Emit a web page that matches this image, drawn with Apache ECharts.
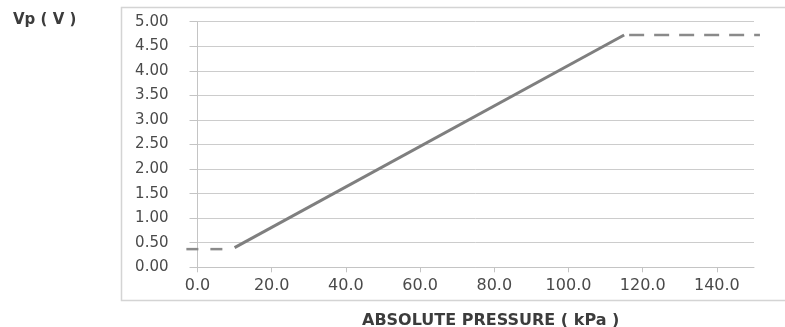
<!DOCTYPE html>
<html>
<head>
<meta charset="utf-8">
<script src="https://cdn.jsdelivr.net/npm/echarts@6/dist/echarts.min.js"></script>
<style>
  html, body { margin: 0; padding: 0; background: #ffffff; }
  #chart { width: 785px; height: 327px; }
</style>
</head>
<body>
<div id="chart"></div>
<script>
// Sensor output voltage versus absolute pressure
const pressureKpa = [10, 115];
const outputVolts = [0.4, 4.73];

// Clamped output outside the linear range
const lowClampKpa = [-3, 9.5];
const lowClampVolts = [0.37, 0.37];
const highClampKpa = [115, 151.6];
const highClampVolts = [4.73, 4.73];

const xTicks = [0, 20, 40, 60, 80, 100, 120, 140];
const yTicks = [0, 0.5, 1, 1.5, 2, 2.5, 3, 3.5, 4, 4.5, 5];

const toPairs = (xs, ys) => xs.map((x, i) => [x, ys[i]]);

const chart = echarts.init(document.getElementById('chart'), null, { renderer: 'canvas' });

const labelFont = 'DejaVu Sans';
const labelColor = '#4a4a4a';

// Plot geometry: 0..150 kPa across the main grid
const gridLeft = 197.5;
const gridRight = 31;
const pxPerKpa = (785 - gridLeft - gridRight) / 150;
// The clamp lines run slightly past the plotted range, so they use a
// companion grid whose x scale is the same but spans -3..152 kPa.
const wideMin = -3;
const wideMax = 152;

chart.setOption({
  animation: false,
  backgroundColor: '#ffffff',
  graphic: [
    {
      type: 'rect',
      shape: { x: 121.5, y: 7.5, width: 680, height: 293 },
      style: { fill: 'none', stroke: '#d4d4d4', lineWidth: 1.5 },
      z: -1
    },
    {
      type: 'text',
      x: 13,
      y: 20,
      style: {
        text: 'Vp ( V )',
        font: 'bold 15px "DejaVu Sans"',
        fill: '#3c3c3c',
        verticalAlign: 'middle'
      }
    },
    {
      type: 'text',
      x: 362,
      y: 321,
      style: {
        text: 'ABSOLUTE PRESSURE ( kPa )',
        font: 'bold 16px "DejaVu Sans"',
        fill: '#3c3c3c',
        verticalAlign: 'middle'
      }
    }
  ],
  grid: [
    { left: gridLeft, right: gridRight, top: 21.7, bottom: 59.7 },
    {
      left: gridLeft + wideMin * pxPerKpa,
      right: gridRight - (wideMax - 150) * pxPerKpa,
      top: 21.7,
      bottom: 59.7
    }
  ],
  xAxis: [
    {
      type: 'value',
      gridIndex: 0,
      min: 0,
      max: 150,
      interval: 20,
      axisLine: { show: true, onZero: false, lineStyle: { color: '#c4c4c4', width: 1 } },
      axisTick: { show: true, length: 5, lineStyle: { color: '#c4c4c4' } },
      splitLine: { show: false },
      axisLabel: {
        margin: 11,
        fontFamily: labelFont,
        fontSize: 16,
        color: labelColor,
        showMaxLabel: false,
        formatter: v => (xTicks.includes(v) ? v.toFixed(1) : '')
      }
    },
    {
      type: 'value',
      gridIndex: 1,
      min: wideMin,
      max: wideMax,
      show: false
    }
  ],
  yAxis: [
    {
      type: 'value',
      gridIndex: 0,
      min: 0,
      max: 5,
      interval: 0.5,
      axisLine: { show: true, lineStyle: { color: '#c4c4c4', width: 1 } },
      axisTick: { show: true, inside: false, length: 8, lineStyle: { color: '#c4c4c4' } },
      splitLine: { show: true, lineStyle: { color: '#cccccc', width: 1 } },
      axisLabel: {
        margin: 29,
        fontFamily: labelFont,
        fontSize: 15,
        color: labelColor,
        formatter: v => (yTicks.some(t => Math.abs(t - v) < 1e-9) ? v.toFixed(2) : '')
      }
    },
    {
      type: 'value',
      gridIndex: 1,
      min: 0,
      max: 5,
      show: false
    }
  ],
  series: [
    {
      type: 'line',
      xAxisIndex: 0,
      yAxisIndex: 0,
      data: toPairs(pressureKpa, outputVolts),
      symbol: 'none',
      lineStyle: { color: '#7f7f7f', width: 3 },
      z: 3
    },
    {
      type: 'line',
      xAxisIndex: 1,
      yAxisIndex: 1,
      data: toPairs(lowClampKpa, lowClampVolts),
      symbol: 'none',
      lineStyle: { color: '#8a8a8a', width: 2.5, type: [12, 12] },
      z: 2
    },
    {
      type: 'line',
      xAxisIndex: 1,
      yAxisIndex: 1,
      data: toPairs(highClampKpa, highClampVolts),
      symbol: 'none',
      lineStyle: { color: '#8a8a8a', width: 2.5, type: [15, 10], dashOffset: 20 },
      z: 2
    }
  ]
});
</script>
</body>
</html>
